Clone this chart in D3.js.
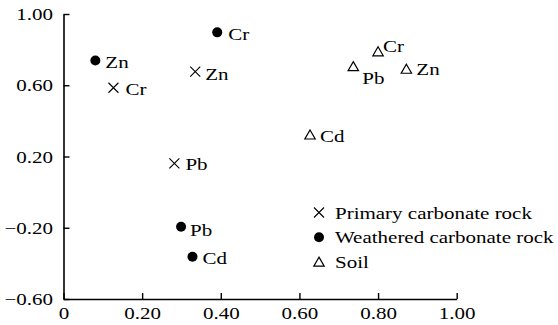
<!DOCTYPE html>
<html>
<head>
<meta charset="utf-8">
<script src="https://cdn.jsdelivr.net/npm/d3@7/dist/d3.min.js"></script>
<style>
  body { margin: 0; background: #fff; font-family: "Liberation Serif", serif; }
  #chart text { font-family: "Liberation Serif", serif; }
</style>
</head>
<body>
<svg id="chart" width="558" height="325" style="display:block"></svg>
<script>
// ---- data ----
const seriesNames = ["Primary carbonate rock", "Weathered carbonate rock", "Soil"];
const primaryElements = ["Cr", "Zn", "Pb"];
const primaryX = [0.127, 0.335, 0.282];
const primaryY = [0.586, 0.676, 0.161];
const weatheredElements = ["Zn", "Cr", "Pb", "Cd"];
const weatheredX = [0.081, 0.391, 0.299, 0.328];
const weatheredY = [0.739, 0.897, -0.194, -0.363];
const soilElements = ["Cr", "Pb", "Zn", "Cd"];
const soilX = [0.800, 0.737, 0.872, 0.627];
const soilY = [0.788, 0.705, 0.690, 0.321];
const xTicks = [0, 0.20, 0.40, 0.60, 0.80, 1.00];
const yTicks = [-0.60, -0.20, 0.20, 0.60, 1.00];

// label placement (style, not data): [dx, dy] from marker centre
const labelOffsets = {
  "Primary carbonate rock": {Cr: [12, 7], Zn: [10, 8], Pb: [11, 7]},
  "Weathered carbonate rock": {Zn: [10, 8], Cr: [11, 8], Pb: [9, 9], Cd: [10, 7]},
  "Soil": {Cr: [5, 0], Pb: [9, 17], Zn: [10, 6], Cd: [10, 7]}
};

const series = [
  {name: seriesNames[0], shape: "cross", pts: primaryElements.map((e, i) => ({e, x: primaryX[i], y: primaryY[i]}))},
  {name: seriesNames[1], shape: "dot", pts: weatheredElements.map((e, i) => ({e, x: weatheredX[i], y: weatheredY[i]}))},
  {name: seriesNames[2], shape: "tri", pts: soilElements.map((e, i) => ({e, x: soilX[i], y: soilY[i]}))}
];

const FONT = "Liberation Serif";
const fs = 17.5;
const SX = 1.2;

function draw() {
  const svg = d3.select("#chart");
  svg.selectAll("*").remove();
  const x = d3.scaleLinear().domain([0, 1]).range([63.5, 456.7]);
  const y = d3.scaleLinear().domain([-0.6, 1]).range([299, 14]);

  const fmt = d3.format(".2f");
  const xAxis = d3.axisBottom(x).tickValues(xTicks).tickSizeInner(-6).tickSizeOuter(0)
    .tickPadding(8).tickFormat(d => d === 0 ? "0" : fmt(d));
  const yAxis = d3.axisLeft(y).tickValues(yTicks).tickSizeInner(-6).tickSizeOuter(0)
    .tickPadding(8.75).tickFormat(fmt);

  const gx = svg.append("g").attr("transform", `translate(0,${y(-0.6)})`).call(xAxis);
  const gy = svg.append("g").attr("transform", `translate(${x(0)},0)`).call(yAxis);
  [gx, gy].forEach(g => {
    g.attr("font-family", FONT).attr("font-size", fs);
    g.selectAll("path.domain").attr("stroke", "#000").attr("stroke-width", 1.6);
    g.selectAll(".tick line").attr("stroke", "#000").attr("stroke-width", 1.4);
    g.selectAll(".tick text").attr("font-family", FONT).attr("font-size", fs)
      .attr("fill", "#000").attr("transform", `scale(${SX},1)`);
  });
  gx.selectAll(".tick text").attr("dy", "0.71em");

  function drawMarker(g, shape, cx, cy) {
    if (shape === "cross") {
      const s = 5;
      g.append("path").attr("d", `M${cx - s},${cy - s}L${cx + s},${cy + s}M${cx - s},${cy + s}L${cx + s},${cy - s}`)
        .attr("stroke", "#000").attr("stroke-width", 1.1).attr("fill", "none");
    } else if (shape === "dot") {
      g.append("circle").attr("cx", cx).attr("cy", cy).attr("r", 5).attr("fill", "#000");
    } else {
      const w = 5.2, h = 9;
      g.append("path").attr("d", `M${cx},${cy - h * 0.55}L${cx + w},${cy + h * 0.45}L${cx - w},${cy + h * 0.45}Z`)
        .attr("stroke", "#000").attr("stroke-width", 1.2).attr("fill", "none");
    }
  }

  function addText(g, tx, ty, str) {
    g.append("text").attr("transform", `translate(${tx},${ty}) scale(${SX},1)`)
      .attr("font-family", FONT).attr("font-size", fs).attr("fill", "#000").text(str);
  }

  const plot = svg.append("g");
  series.forEach(s => {
    s.pts.forEach(p => {
      const cx = x(p.x), cy = y(p.y);
      drawMarker(plot, s.shape, cx, cy);
      const off = labelOffsets[s.name][p.e];
      addText(plot, cx + off[0], cy + off[1], p.e);
    });
  });

  const legend = svg.append("g");
  const legX = 319, legY0 = 212.5, legStep = 24.8;
  series.forEach((s, i) => {
    const cy = legY0 + i * legStep;
    drawMarker(legend, s.shape, legX, cy);
    addText(legend, legX + 16, cy + 6, s.name);
  });
}

draw();
if (document.fonts && document.fonts.load) {
  document.fonts.load(`${fs}px "${FONT}"`).then(draw).catch(() => {});
}
</script>
</body>
</html>
